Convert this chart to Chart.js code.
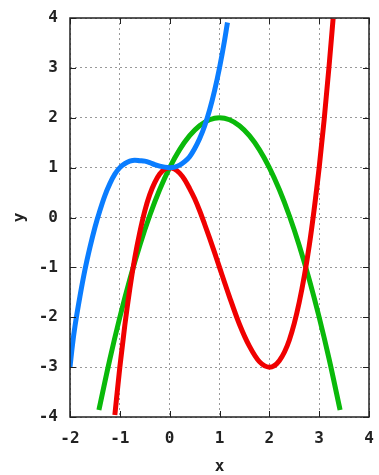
<!DOCTYPE html>
<html>
<head>
<meta charset="utf-8">
<script src="https://cdn.jsdelivr.net/npm/chart.js@4"></script>
<style>
  body { margin: 0; background: #fff; }
  .chart-container { position: relative; width: 379px; height: 475px; }
</style>
</head>
<body>
<div class="chart-container"><canvas id="plot"></canvas></div>
<script>
// values
const blueX = [-2, -1.95, -1.9, -1.8, -1.7, -1.6, -1.5, -1.4, -1.3, -1.2, -1.1, -1.0, -0.9, -0.8, -0.7, -0.6, -0.5, -0.4, -0.3, -0.2, -0.1, 0, 0.1, 0.2, 0.3, 0.4, 0.5, 0.6, 0.7, 0.8, 0.9, 1.0, 1.1, 1.16];
const blueY = [-3.0, -2.55, -2.18, -1.58, -1.05, -0.6, -0.2, 0.14, 0.44, 0.68, 0.87, 1.0, 1.08, 1.13, 1.15, 1.14, 1.13, 1.10, 1.06, 1.03, 1.01, 1.0, 1.01, 1.05, 1.12, 1.22, 1.38, 1.58, 1.83, 2.15, 2.54, 3.0, 3.54, 3.91];

const redX = [-1.1, -1.0, -0.9, -0.8, -0.7, -0.6, -0.5, -0.4, -0.3, -0.2, -0.1, 0, 0.1, 0.2, 0.3, 0.4, 0.5, 0.6, 0.7, 0.8, 0.9, 1.0, 1.2, 1.4, 1.6, 1.8, 2.0, 2.2, 2.4, 2.6, 2.8, 3.0, 3.1, 3.2, 3.28];
const redY = [-3.96, -3.0, -2.16, -1.43, -0.81, -0.30, 0.13, 0.46, 0.70, 0.87, 0.97, 1.0, 0.97, 0.89, 0.76, 0.58, 0.38, 0.14, -0.13, -0.41, -0.70, -1.0, -1.59, -2.14, -2.58, -2.89, -3.0, -2.87, -2.46, -1.70, -0.57, 1.0, 1.96, 3.05, 3.99];

const greenX = [-1.42, -1.2, -1.0, -0.8, -0.6, -0.4, -0.2, 0, 0.2, 0.4, 0.6, 0.8, 1.0, 1.2, 1.4, 1.6, 1.8, 2.0, 2.2, 2.4, 2.6, 2.8, 3.0, 3.2, 3.42];
const greenY = [-3.86, -2.84, -2.0, -1.24, -0.56, 0.04, 0.56, 1.0, 1.36, 1.64, 1.84, 1.96, 2.0, 1.96, 1.84, 1.64, 1.36, 1.0, 0.56, 0.04, -0.56, -1.24, -2.0, -2.84, -3.86];

const xRange = [-2, 4];
const yRange = [-4, 4];
const xTitle = 'x';
const yTitle = 'y';

const toPoints = (xs, ys) => xs.map((x, i) => ({ x: x, y: ys[i] }));

const labelFont = { family: 'DejaVu Sans Mono', weight: 'bold', size: 16, lineHeight: 1 };

// gnuplot-like frame with inward tick marks on all four sides
const framePlugin = {
  id: 'frame',
  afterDatasetsDraw(chart) {
    const { ctx, chartArea: a, scales } = chart;
    ctx.save();
    ctx.strokeStyle = '#222';
    ctx.lineWidth = 1;
    ctx.beginPath();
    scales.x.ticks.forEach(t => {
      const px = Math.round(scales.x.getPixelForValue(t.value)) + 0.5;
      ctx.moveTo(px, a.bottom); ctx.lineTo(px, a.bottom - 6);
      ctx.moveTo(px, a.top); ctx.lineTo(px, a.top + 6);
    });
    scales.y.ticks.forEach(t => {
      const py = Math.round(scales.y.getPixelForValue(t.value)) + 0.5;
      ctx.moveTo(a.left, py); ctx.lineTo(a.left + 6, py);
      ctx.moveTo(a.right, py); ctx.lineTo(a.right - 6, py);
    });
    ctx.stroke();
    ctx.lineWidth = 1.5;
    ctx.strokeRect(a.left, a.top, a.right - a.left, a.bottom - a.top);
    ctx.restore();
  }
};

const lineStyle = {
  borderWidth: 5,
  pointRadius: 0,
  fill: false,
  cubicInterpolationMode: 'monotone',
  borderCapStyle: 'butt'
};

new Chart(document.getElementById('plot'), {
  type: 'line',
  data: {
    datasets: [
      Object.assign({ label: 'blue', data: toPoints(blueX, blueY), borderColor: 'rgb(10,125,255)' }, lineStyle),
      Object.assign({ label: 'red', data: toPoints(redX, redY), borderColor: 'rgb(240,0,0)' }, lineStyle),
      Object.assign({ label: 'green', data: toPoints(greenX, greenY), borderColor: 'rgb(10,185,10)' }, lineStyle)
    ]
  },
  options: {
    animation: false,
    responsive: true,
    maintainAspectRatio: false,
    layout: { padding: { top: 18, right: 10, left: 0, bottom: 0 } },
    plugins: { legend: { display: false }, tooltip: { enabled: false } },
    scales: {
      x: {
        type: 'linear',
        min: xRange[0],
        max: xRange[1],
        afterFit: s => { s.height = 58; s.paddingLeft = 0; s.paddingRight = 0; },
        ticks: { stepSize: 1, padding: 14, color: '#222', font: labelFont },
        grid: { color: '#999', drawTicks: false, lineWidth: 1 },
        border: { display: false, dash: [2, 3] },
        title: { display: true, text: xTitle, color: '#222', font: labelFont, padding: { top: 0, bottom: 0 } }
      },
      y: {
        type: 'linear',
        min: yRange[0],
        max: yRange[1],
        afterFit: s => { s.width = 70; s.paddingTop = 0; s.paddingBottom = 0; },
        ticks: { stepSize: 1, padding: 12, color: '#222', font: labelFont },
        grid: { color: '#999', drawTicks: false, lineWidth: 1 },
        border: { display: false, dash: [2, 3] },
        title: { display: true, text: yTitle, color: '#222', font: labelFont, padding: { top: 12, bottom: 0 } }
      }
    }
  },
  plugins: [framePlugin]
});
</script>
</body>
</html>
